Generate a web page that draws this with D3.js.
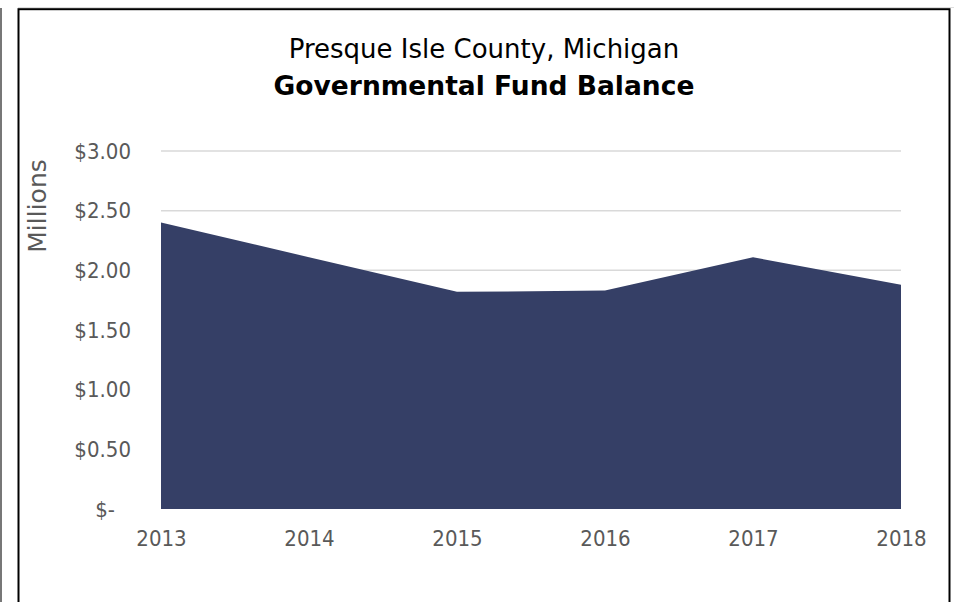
<!DOCTYPE html>
<html>
  <head>
    <meta charset="utf-8">
    <title>Governmental Fund Balance</title>
    <script src="https://d3js.org/d3.v7.min.js"></script>
    <style>
      body { margin: 0; background: #fff; }
      text { font-family: "DejaVu Sans Condensed", "DejaVu Sans", sans-serif; }
      .wide { font-family: "DejaVu Sans", sans-serif; }
    </style>
  </head>
  <body>
    <div id="chart"></div>
    <script>
    // chart data (values in millions of dollars)
    var years = ["2013", "2014", "2015", "2016", "2017", "2018"];
    var balance = [2.40, 2.11, 1.82, 1.83, 2.11, 1.88];
    var yTicks = [0, 0.5, 1, 1.5, 2, 2.5, 3];

    var width = 954, height = 602;
    var plot = {left: 161, right: 901, top: 151, bottom: 509};

    var svg = d3.select("#chart")
      .append("svg")
      .attr("width", width)
      .attr("height", height);

    // frame lines
    svg.append("line")
      .attr("x1", 1).attr("x2", 1).attr("y1", 8).attr("y2", height)
      .attr("stroke", "#777").attr("stroke-width", 2);
    svg.append("line")
      .attr("x1", 18).attr("x2", width).attr("y1", 7.5).attr("y2", 7.5)
      .attr("stroke", "#ddd").attr("stroke-width", 1);
    svg.append("rect")
      .attr("x", 18.5).attr("y", 9.2)
      .attr("width", 931).attr("height", 640)
      .attr("fill", "none").attr("stroke", "#000").attr("stroke-width", 2);

    // scales
    var x = d3.scalePoint()
      .domain(years)
      .range([plot.left, plot.right])
      .padding(0);

    var y = d3.scaleLinear()
      .domain([0, 3])
      .range([plot.bottom, plot.top]);

    // gridlines
    svg.append("g")
      .selectAll("line")
      .data(yTicks.filter(d => d > 0))
      .enter()
      .append("line")
      .attr("x1", plot.left)
      .attr("x2", plot.right)
      .attr("y1", d => y(d))
      .attr("y2", d => y(d))
      .attr("stroke", "#d9d9d9")
      .attr("stroke-width", 1.5);

    // area
    var area = d3.area()
      .x((d, i) => x(years[i]))
      .y0(y(0))
      .y1(d => y(d));

    svg.append("path")
      .datum(balance)
      .attr("d", area)
      .attr("fill", "#353f66");

    // y axis
    var yAxis = d3.axisLeft(y)
      .tickValues(yTicks)
      .tickSize(0)
      .tickPadding(30)
      .tickFormat(d => d === 0 ? "$-" : "$" + d3.format(".2f")(d));

    var gy = svg.append("g")
      .attr("transform", "translate(" + plot.left + ",0)")
      .call(yAxis);
    gy.select(".domain").remove();
    gy.selectAll("text")
      .attr("fill", "#595959")
      .style("font-size", "22px")
      .attr("dx", d => d === 0 ? -16 : 0);

    // x axis
    var xAxis = d3.axisBottom(x)
      .tickSize(0)
      .tickPadding(21);

    var gx = svg.append("g")
      .attr("transform", "translate(0," + plot.bottom + ")")
      .call(xAxis);
    gx.select(".domain").remove();
    gx.selectAll("text")
      .attr("fill", "#595959")
      .style("font-size", "22px");

    // axis title
    svg.append("text")
      .attr("class", "wide")
      .attr("transform", "translate(46,206) rotate(-90)")
      .attr("text-anchor", "middle")
      .attr("fill", "#595959")
      .style("font-size", "25px")
      .text("Millions");

    // chart title
    svg.append("text")
      .attr("class", "wide")
      .attr("x", 484).attr("y", 58)
      .attr("text-anchor", "middle")
      .attr("fill", "#000")
      .style("font-size", "26px")
      .text("Presque Isle County, Michigan");

    svg.append("text")
      .attr("class", "wide")
      .attr("x", 484).attr("y", 95)
      .attr("text-anchor", "middle")
      .attr("fill", "#000")
      .style("font-size", "26.5px")
      .style("font-weight", "bold")
      .text("Governmental Fund Balance");
    </script>
  </body>
</html>
